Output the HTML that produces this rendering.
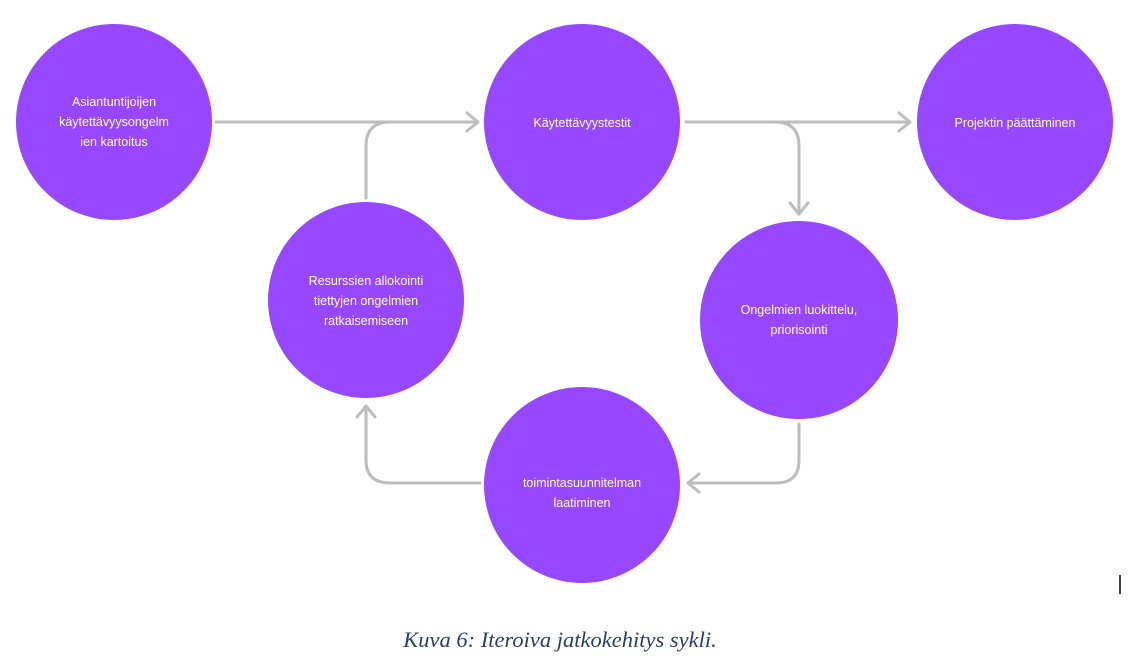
<!DOCTYPE html>
<html><head><meta charset="utf-8"><style>
html,body{margin:0;padding:0;background:#fff;width:1129px;height:665px;overflow:hidden}
svg{position:absolute;left:0;top:0}
.t{font-family:"Liberation Sans",sans-serif;font-size:12.5px;fill:#fff;text-anchor:middle}
.cap{position:absolute;left:0;width:1120px;top:627px;text-align:center;font-family:"Liberation Serif",serif;font-style:italic;font-size:22.5px;color:#2a3f6e}
</style></head><body>
<svg width="1129" height="665">
<g fill="none" stroke="#bdbdbd" stroke-width="3" stroke-linecap="round" stroke-linejoin="round">
<path d="M216 122 H478"/><path d="M467 113 L478 122 L467 131"/>
<path d="M366 198 V146 Q366 122 390 122"/>
<path d="M686 122 H910"/><path d="M899 113 L910 122 L899 131"/>
<path d="M775 122 Q799 122 799 146 V214"/><path d="M790 203 L799 214 L808 203"/>
<path d="M799 424 V460 Q799 483 776 483 H688"/><path d="M699 474 L688 483 L699 492"/>
<path d="M480 483 H390 Q366 483 366 460 V406"/><path d="M357 417 L366 406 L375 417"/>
</g>
<g fill="#9747ff">
<circle cx="114" cy="122" r="98"/>
<circle cx="582" cy="122" r="98"/>
<circle cx="1015" cy="122" r="98"/>
<circle cx="366" cy="300" r="98"/>
<circle cx="799" cy="320" r="99"/>
<circle cx="582" cy="485" r="98"/>
</g>
<text class="t" x="114" y="106">Asiantuntijoijen</text>
<text class="t" x="114" y="126">käytettävyysongelm</text>
<text class="t" x="114" y="146">ien kartoitus</text>
<text class="t" x="582" y="127">Käytettävyystestit</text>
<text class="t" x="1015" y="127">Projektin päättäminen</text>
<text class="t" x="366" y="285">Resurssien allokointi</text>
<text class="t" x="366" y="305">tiettyjen ongelmien</text>
<text class="t" x="366" y="325">ratkaisemiseen</text>
<text class="t" x="799" y="314">Ongelmien luokittelu,</text>
<text class="t" x="799" y="334">priorisointi</text>
<text class="t" x="582" y="487">toimintasuunnitelman</text>
<text class="t" x="582" y="507">laatiminen</text>
<line x1="1120" y1="575" x2="1120" y2="594" stroke="#000" stroke-width="1.5"/>
</svg>
<div class="cap">Kuva 6: Iteroiva jatkokehitys sykli.</div>
</body></html>
